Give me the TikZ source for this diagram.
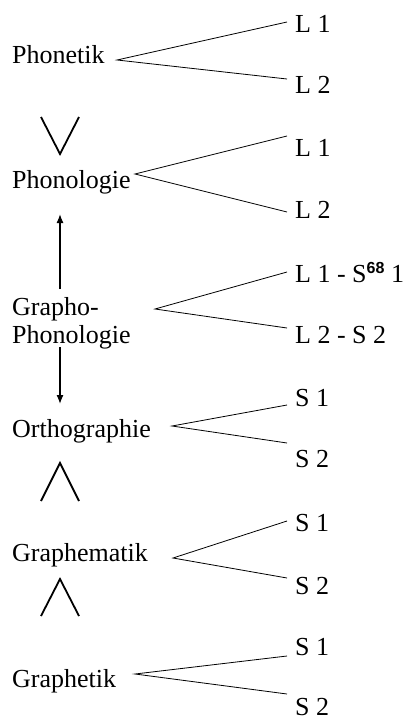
\documentclass[tikz,border=0pt]{standalone}
\usepackage{fontspec}
\setmainfont{Liberation Serif}
\newfontfamily\supfont{Liberation Sans}
\usetikzlibrary{arrows.meta}
\begin{document}
\begin{tikzpicture}[x=1pt,y=-1pt,
  lbl/.style={anchor=base west,inner sep=0pt,font=\fontsize{26}{28}\selectfont},
  branch/.style={line width=0.8pt},
  vsym/.style={line width=1.8pt},
  updown/.style={line width=1.3pt,-{Latex[length=9pt,width=7pt]}}]
\useasboundingbox (0,0) rectangle (410,720);
% Phonetik
\node[lbl] (phonetik) at (12,63) {Phonetik};
\coordinate (v1) at (117,60);
\node[lbl] (a1) at (295,32) {L 1};
\node[lbl] (a2) at (295,93) {L 2};
\coordinate (e1a) at (287,22);
\coordinate (e1b) at (287,79);
\draw[branch] (e1a) -- (v1) -- (e1b);
% V
\coordinate (s1a) at (41,117);
\coordinate (s1b) at (60,154);
\coordinate (s1c) at (79,117);
\draw[vsym] (s1a) -- (s1b) -- (s1c);
% Phonologie
\node[lbl] (phonologie) at (12,188) {Phonologie};
\coordinate (v2) at (135,174);
\node[lbl] (b1) at (295,156) {L 1};
\node[lbl] (b2) at (295,218) {L 2};
\coordinate (e2a) at (287,136);
\coordinate (e2b) at (287,212);
\draw[branch] (e2a) -- (v2) -- (e2b);
% arrow up
\coordinate (u1) at (60,289);
\coordinate (u2) at (60,214);
\draw[updown] (u1) -- (u2);
% Grapho-Phonologie
\node[lbl] (grapho) at (12,315) {Grapho-};
\node[lbl] (graphophon) at (12,343) {Phonologie};
\coordinate (v3) at (155,309);
\node[lbl] (c1) at (295,282) {L 1 - S\raisebox{9pt}{\supfont\bfseries\fontsize{16}{16}\selectfont 68} 1};
\node[lbl] (c2) at (295,343) {L 2 - S 2};
\coordinate (e3a) at (287,272);
\coordinate (e3b) at (287,328);
\draw[branch] (e3a) -- (v3) -- (e3b);
% arrow down
\coordinate (d1) at (60,347);
\coordinate (d2) at (60,404);
\draw[updown] (d1) -- (d2);
% Orthographie
\node[lbl] (ortho) at (12,437) {Orthographie};
\coordinate (v4) at (172,426);
\node[lbl] (d1t) at (295,406) {S 1};
\node[lbl] (d2t) at (295,467) {S 2};
\coordinate (e4a) at (287,405);
\coordinate (e4b) at (287,443);
\draw[branch] (e4a) -- (v4) -- (e4b);
% wedge 1
\coordinate (w1a) at (41,501);
\coordinate (w1b) at (60,463);
\coordinate (w1c) at (79,501);
\draw[vsym] (w1a) -- (w1b) -- (w1c);
% Graphematik
\node[lbl] (graphem) at (12,561) {Graphematik};
\coordinate (v5) at (173,558);
\node[lbl] (f1) at (295,531) {S 1};
\node[lbl] (f2) at (295,594) {S 2};
\coordinate (e5a) at (287,521);
\coordinate (e5b) at (287,578);
\draw[branch] (e5a) -- (v5) -- (e5b);
% wedge 2
\coordinate (w2a) at (41,616);
\coordinate (w2b) at (60,579);
\coordinate (w2c) at (79,616);
\draw[vsym] (w2a) -- (w2b) -- (w2c);
% Graphetik
\node[lbl] (graphet) at (12,687) {Graphetik};
\coordinate (v6) at (135,674);
\node[lbl] (g1) at (295,655) {S 1};
\node[lbl] (g2) at (295,715) {S 2};
\coordinate (e6a) at (287,656);
\coordinate (e6b) at (287,694);
\draw[branch] (e6a) -- (v6) -- (e6b);
\end{tikzpicture}
\end{document}
